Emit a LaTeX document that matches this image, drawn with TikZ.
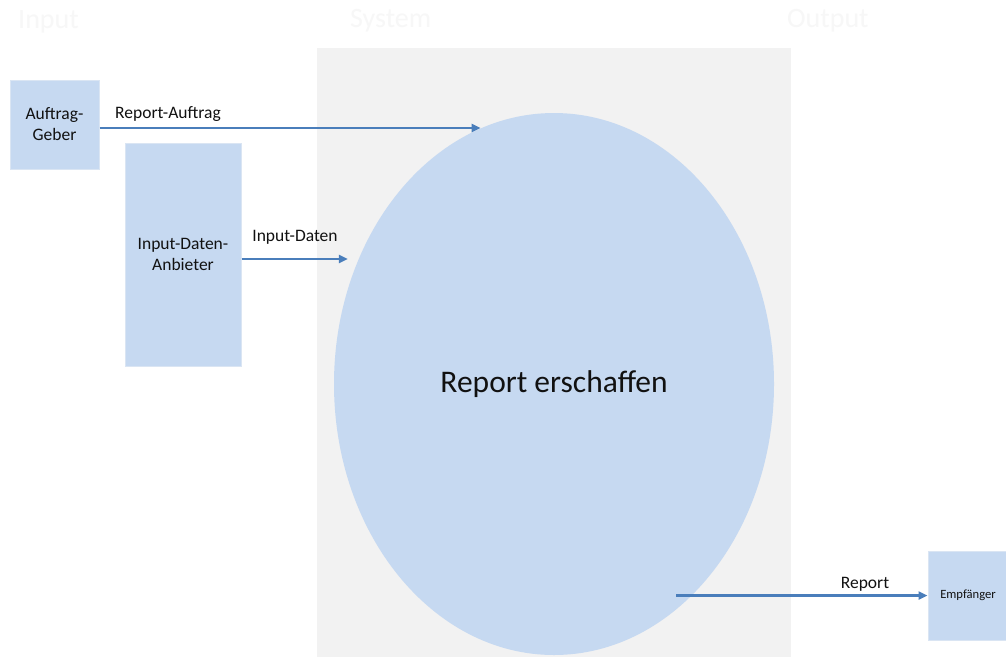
\documentclass[tikz,border=0pt]{standalone}
\usepackage{fontspec}
\setmainfont{Carlito}
\usetikzlibrary{shapes.geometric,calc,arrows.meta}
\definecolor{boxblue}{HTML}{C6D9F1}
\definecolor{boxedge}{HTML}{DAE5F3}
\definecolor{panelgray}{HTML}{F2F2F2}
\definecolor{flowblue}{HTML}{4A7EBB}
\definecolor{headgray}{HTML}{F7F7F7}
\definecolor{inktext}{HTML}{111111}
\tikzset{
  actor/.style={draw=boxedge, line width=1pt, fill=boxblue, align=center,
    font=\fontsize{17.5}{21}\selectfont, text=inktext, inner sep=0pt},
  flow/.style={draw=flowblue, line width=2.2pt, -{Triangle[length=9pt,width=8pt]}},
  flowlabel/.style={font=\fontsize{17.5}{21}\selectfont, text=inktext, inner sep=0pt},
  heading/.style={font=\fontsize{28}{32}\selectfont, text=headgray, inner sep=0pt}
}
\begin{document}
\begin{tikzpicture}[x=1pt,y=-1pt]
  \useasboundingbox (0,0) rectangle (1006,657);
  \fill[white] (0,0) rectangle (1006,657);

  % column headings
  \node[heading, anchor=west] (hin) at (18,22) {Input};
  \node[heading, anchor=west] (hsys) at (350,21) {System};
  \node[heading, anchor=west] (hout) at (787,21) {Output};

  % system panel
  \fill[panelgray] (317,48) rectangle (791,657);

  % process
  \node[ellipse, fill=boxblue, minimum width=440pt, minimum height=542pt,
        inner sep=0pt, font=\fontsize{31.5}{36}\selectfont, text=inktext]
        (ell) at (554,384) {Report erschaffen};

  % actors
  \node[actor, minimum width=89pt, minimum height=89pt] (auftrag) at (54.5,124.5) {Auftrag-\\Geber};
  \node[actor, minimum width=116pt, minimum height=223pt] (anbieter) at (183,254.5) {Input-Daten-\\Anbieter};
  \node[actor, minimum width=80pt, minimum height=89pt, font=\fontsize{12.6}{15}\selectfont]
        (empf) at (968,595.5) {Empfänger};

  % flows
  \draw[flow] ([yshift=-3.5pt]auftrag.east) -- ([yshift=-3.5pt]auftrag.east -| ell.106);
  \draw[flow] ([yshift=-4.5pt]anbieter.east) -- ([xshift=14pt,yshift=-4.5pt]anbieter.east -| ell.west);
  \draw[flow] ($(ell.center |- empf.west)+(122,0)$) -- (empf.west);

  % flow labels
  \node[flowlabel, anchor=west] (lauf) at (115,114) {Report-Auftrag};
  \node[flowlabel] (ldat) at (295,237) {Input-Daten};
  \node[flowlabel] (lrep) at (865,584) {Report};
\end{tikzpicture}
\end{document}
